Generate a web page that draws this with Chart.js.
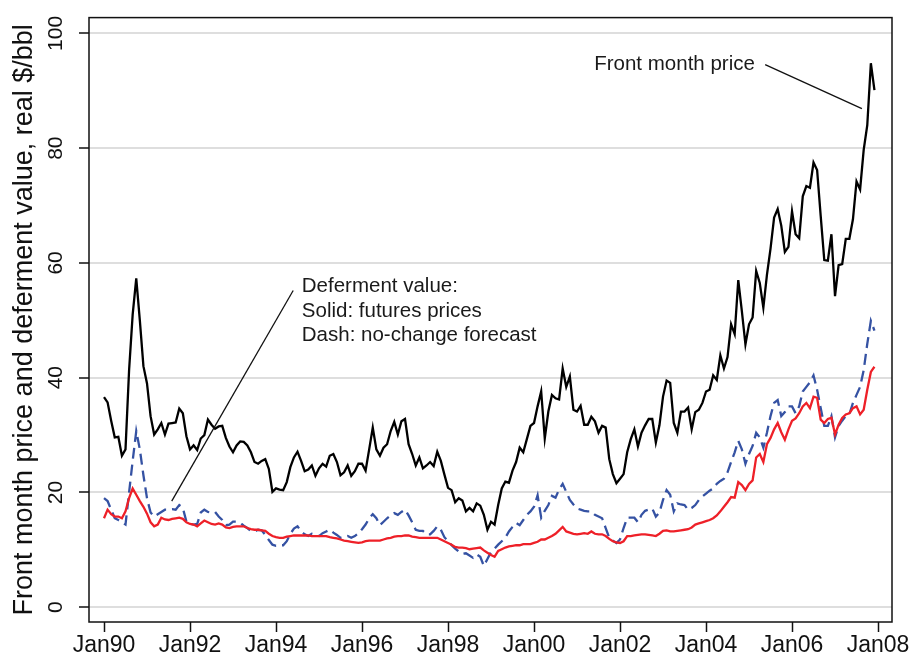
<!DOCTYPE html>
<html><head><meta charset="utf-8">
<script src="https://cdn.jsdelivr.net/npm/chart.js@4.4.1/dist/chart.umd.min.js"></script>
<style>html,body{margin:0;padding:0;background:#fff;}canvas{display:block;}</style>
</head><body>
<canvas id="c" width="912" height="660"></canvas>
<script>
// Monthly, Jan 1990 (index 0) .. Dec 2007 (index 215)
const frontMonth = [
36.6,35.7,32.5,29.6,29.7,26.4,27.5,41.3,51.0,57.3,50.0,42.0,
39.0,33.3,30.1,31.0,32.1,30.1,32.0,32.1,32.2,34.6,33.8,29.8,
27.5,28.2,27.4,29.4,30.0,32.7,31.8,31.1,31.5,31.6,29.5,28.0,
27.0,28.2,28.9,28.8,28.2,27.0,25.3,25.0,25.5,25.8,24.1,20.1,
20.7,20.5,20.4,21.8,24.4,26.1,27.1,25.5,23.7,24.0,24.7,22.9,
24.2,25.0,24.5,26.4,26.7,25.3,23.0,23.5,24.7,22.9,23.7,25.0,
25.0,23.8,27.5,31.3,27.5,26.4,27.8,28.4,30.7,32.3,30.1,32.4,
32.8,28.4,26.7,24.7,26.1,24.2,24.7,25.3,24.6,27.1,25.5,23.1,
20.8,20.4,18.3,19.0,18.6,16.7,17.3,16.7,18.1,17.7,16.1,13.5,
14.9,14.4,17.8,20.7,21.9,21.7,23.8,25.3,27.8,27.0,29.3,31.6,
32.1,35.0,37.6,29.4,34.1,37.0,36.4,36.2,41.6,38.4,40.2,34.4,
34.1,35.1,31.8,31.8,33.2,32.4,30.4,31.6,31.3,25.8,23.2,21.6,
22.4,23.2,27.0,29.3,31.0,28.0,30.4,31.7,32.8,32.8,28.7,31.7,
36.7,39.5,39.1,32.1,30.4,34.1,34.1,34.8,31.0,34.0,34.4,35.6,
37.6,37.9,40.4,39.6,43.9,41.6,43.6,49.3,47.6,57.0,51.6,45.8,
49.3,50.5,58.6,56.5,52.2,57.9,62.5,67.9,69.4,66.5,61.9,62.8,
69.0,65.0,64.3,71.6,73.4,73.1,77.5,76.2,68.2,60.5,60.4,65.0,
54.2,59.6,59.8,64.2,64.2,67.6,74.2,72.8,79.7,84.0,94.8,90.1
];
const deferFutures = [
15.5,17.0,16.2,15.8,15.8,15.5,16.7,19.0,20.7,19.6,18.5,17.5,
16.3,14.8,14.1,14.4,15.6,15.3,15.2,15.4,15.5,15.6,15.4,14.8,
14.5,14.4,14.1,14.6,15.1,14.8,14.5,14.4,14.6,14.4,13.9,13.8,
14.0,14.1,14.1,14.1,13.8,13.6,13.5,13.5,13.4,13.3,12.8,12.4,
12.2,12.1,12.1,12.3,12.4,12.5,12.5,12.5,12.5,12.5,12.4,12.4,
12.4,12.4,12.4,12.2,12.1,12.0,11.8,11.6,11.5,11.4,11.3,11.2,
11.3,11.5,11.6,11.6,11.6,11.6,11.8,12.0,12.1,12.3,12.4,12.4,
12.5,12.5,12.3,12.2,12.1,12.1,12.1,12.1,12.1,12.1,11.8,11.5,
11.2,10.9,10.5,10.4,10.4,10.3,10.1,10.2,10.3,10.4,9.9,9.5,
9.1,8.8,9.8,10.1,10.4,10.6,10.7,10.8,10.8,11.0,11.0,11.0,
11.2,11.4,11.8,11.8,12.1,12.4,12.8,13.4,14.0,13.2,13.0,12.8,
12.7,12.8,12.9,12.8,13.2,12.8,12.7,12.7,12.4,11.9,11.5,11.3,
11.2,11.5,12.4,12.4,12.5,12.6,12.7,12.7,12.6,12.5,12.4,12.8,
13.3,13.4,13.2,13.2,13.3,13.4,13.5,13.6,13.9,14.4,14.6,14.8,
15.0,15.2,15.5,16.0,16.7,17.5,18.3,19.2,19.1,21.8,21.3,20.4,
21.5,22.1,26.1,26.7,25.3,28.4,29.5,31.0,32.1,30.5,29.2,31.0,
32.5,32.9,33.8,35.0,35.6,34.7,36.7,36.5,32.7,32.1,32.8,33.0,
30.1,31.8,33.0,33.6,33.8,34.7,35.0,33.6,34.4,37.9,41.0,41.9
];
const deferNoChange = [
19.0,18.5,17.0,15.5,15.2,14.8,14.4,20.0,25.5,30.7,27.5,23.0,
19.0,16.5,15.8,16.2,16.6,17.0,17.0,17.1,17.0,17.8,17.3,14.9,
14.5,14.4,14.5,16.5,17.0,16.6,16.5,16.6,15.8,15.2,14.3,14.4,
14.9,14.9,14.7,14.2,13.8,13.3,13.2,13.5,13.4,12.6,11.7,10.9,
10.7,10.8,10.8,11.5,12.8,13.7,14.1,13.2,12.7,12.4,12.8,12.6,
12.4,12.9,13.2,13.5,13.0,12.6,12.1,12.2,12.4,12.1,12.4,12.9,
13.6,14.4,15.5,16.2,15.5,14.3,14.9,15.5,16.0,16.4,16.1,16.6,
17.0,16.0,14.8,13.5,13.3,13.3,12.7,12.7,13.3,14.1,13.5,12.2,
11.5,10.8,10.2,9.7,9.3,9.4,9.0,8.6,9.2,8.8,7.2,8.4,
9.6,10.2,10.9,11.5,12.1,13.2,14.0,14.7,14.3,15.2,16.1,16.7,
17.5,19.5,15.6,16.8,17.8,19.4,19.1,20.5,21.5,20.1,18.7,17.9,
17.2,17.0,16.8,16.7,16.7,16.1,15.8,15.5,13.8,12.1,11.6,11.2,
11.8,13.8,15.6,15.6,15.6,14.8,16.1,16.8,17.0,17.2,15.8,16.5,
18.7,20.4,19.6,16.7,18.1,17.9,17.8,17.0,17.3,17.8,18.7,19.3,
19.8,20.3,20.7,21.5,22.0,22.4,23.5,25.3,27.0,29.0,27.5,25.0,
26.7,28.1,30.4,29.6,27.8,30.4,33.3,35.6,36.1,33.3,34.0,35.0,
35.0,33.8,35.0,37.6,38.4,39.2,40.4,37.9,34.7,31.6,31.6,33.3,
29.6,31.6,32.5,33.3,33.6,35.6,37.0,38.4,41.3,45.9,49.9,48.2
];
const xTickValues = [0,24,48,72,96,120,144,168,192,216];
const xTickLabels = ['Jan90','Jan92','Jan94','Jan96','Jan98','Jan00','Jan02','Jan04','Jan06','Jan08'];
const yTickValues = [0,20,40,60,80,100];
const yTitle = 'Front month price and deferment value, real $/bbl';

// annotation anchors in data units (month index, $/bbl)
const frontNote = {text:'Front month price', x:136.8, y:93.64};
const frontLeader = [[184.5,94.55],[211.5,86.9]];
const deferNoteLines = ['Deferment value:','Solid: futures prices','Dash: no-change forecast'];
const deferNoteX = 55.2;
const deferNoteY = [54.86,50.64,46.46];
const deferLeader = [[52.8,55.2],[18.9,18.5]];

const FONT = '"Liberation Sans", Arial, Helvetica, sans-serif';
const toXY = arr => arr.map((v,i)=>({x:i,y:v}));

const notesPlugin = {
  id:'notes',
  afterDatasetsDraw(chart){
    const {ctx, scales:{x,y}} = chart;
    ctx.save();
    ctx.strokeStyle = '#111';
    ctx.lineWidth = 1.3;
    for (const seg of [frontLeader, deferLeader]) {
      ctx.beginPath();
      ctx.moveTo(x.getPixelForValue(seg[0][0]), y.getPixelForValue(seg[0][1]));
      ctx.lineTo(x.getPixelForValue(seg[1][0]), y.getPixelForValue(seg[1][1]));
      ctx.stroke();
    }
    ctx.fillStyle = '#1a1a1a';
    ctx.font = '20.5px ' + FONT;
    ctx.textAlign = 'left';
    ctx.textBaseline = 'alphabetic';
    ctx.fillText(frontNote.text, x.getPixelForValue(frontNote.x), y.getPixelForValue(frontNote.y));
    deferNoteLines.forEach((t,i)=>{
      ctx.fillText(t, x.getPixelForValue(deferNoteX), y.getPixelForValue(deferNoteY[i]));
    });
    ctx.restore();
  },
  afterDraw(chart){
    const {ctx, chartArea:a} = chart;
    ctx.save();
    ctx.strokeStyle = '#111';
    ctx.lineWidth = 1.5;
    ctx.strokeRect(a.left, a.top, a.right-a.left, a.bottom-a.top);
    ctx.restore();
  }
};

new Chart(document.getElementById('c'), {
  type:'line',
  data:{
    datasets:[
      {label:'Front month price', data:toXY(frontMonth), borderColor:'#000', borderWidth:2.3, pointRadius:0, tension:0, fill:false},
      {label:'Deferment value: futures prices', data:toXY(deferFutures), borderColor:'#ee2028', borderWidth:2.3, pointRadius:0, tension:0, fill:false},
      {label:'Deferment value: no-change forecast', data:toXY(deferNoChange), borderColor:'#3552a3', borderWidth:2.3, borderDash:[11,6], pointRadius:0, tension:0, fill:false}
    ]
  },
  options:{
    responsive:false,
    animation:false,
    events:[],
    layout:{padding:{left:0, top:9, right:20, bottom:0}},
    plugins:{legend:{display:false}, tooltip:{enabled:false}},
    scales:{
      x:{
        type:'linear', min:-4.186, max:219.9,
        afterBuildTicks:s=>{ s.ticks = xTickValues.map(v=>({value:v})); },
        afterFit:s=>{ s.height = 38; },
        grid:{drawOnChartArea:false, drawTicks:true, tickLength:10, tickColor:'#111', tickWidth:1.5},
        border:{display:false},
        ticks:{autoSkip:false, maxRotation:0, minRotation:0, padding:0, color:'#111',
               font:{family:FONT, size:23},
               callback:v=>xTickLabels[xTickValues.indexOf(v)]}
      },
      y:{
        type:'linear', min:-2.577, max:102.75,
        afterBuildTicks:s=>{ s.ticks = yTickValues.map(v=>({value:v})); },
        afterFit:s=>{ s.width = 89; },
        grid:{color:'#dedede', lineWidth:2, drawTicks:true, tickLength:10, tickColor:'#111', tickWidth:1.5},
        border:{display:false},
        title:{display:true, text:yTitle, color:'#111', font:{family:FONT, size:27}, padding:{top:8, bottom:0}},
        ticks:{minRotation:90, maxRotation:90, crossAlign:'center', padding:5, color:'#111',
               font:{family:FONT, size:21},
               callback:v=>String(v)}
      }
    }
  },
  plugins:[notesPlugin]
});
</script>
</body></html>
